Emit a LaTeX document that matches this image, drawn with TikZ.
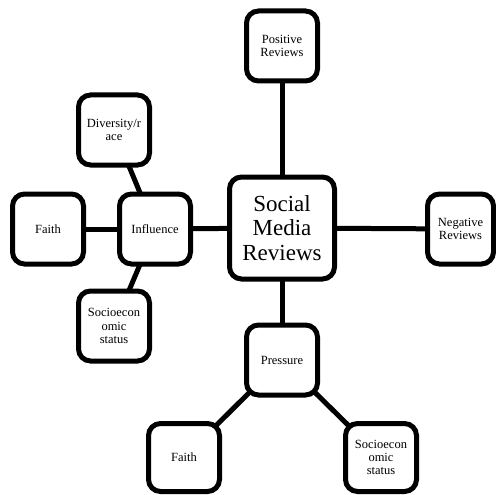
\documentclass[tikz,border=0pt]{standalone}
\usepackage{fontspec}
\setmainfont{Liberation Serif}
\usetikzlibrary{backgrounds}

\begin{document}
\begin{tikzpicture}[x=1pt, y=-1pt, line width=5pt,
    box/.style={shape=rectangle, draw=black, fill=white, rounded corners=12pt, minimum width=71pt, minimum height=70pt, inner sep=1pt, align=center, font=\fontsize{12.5}{13.3}\selectfont},
    bigbox/.style={box, minimum width=105pt, minimum height=102pt, font=\fontsize{23}{24.7}\selectfont},
    link/.style={draw=black, line width=5pt}]
    \useasboundingbox (0,0) rectangle (496,495);
    \node[bigbox] (social) at (282, 228) {Social\\Media\\Reviews};
    \node[box] (positive) at (282, 46) {Positive\\Reviews};
    \node[box, minimum width=66pt] (negative) at (460.5, 229) {Negative\\Reviews};
    \node[box] (influence) at (155, 229) {Influence};
    \node[box] (faithleft) at (48, 229) {Faith};
    \node[box] (diversity) at (114, 130) {Diversity/r\\ace};
    \node[box] (socioleft) at (114, 326) {Socioecon\\omic\\status};
    \node[box] (pressure) at (282, 360) {Pressure};
    \node[box, minimum height=68pt] (faithbottom) at (184, 457.5) {Faith};
    \node[box, minimum height=68pt] (sociobottom) at (381, 457.5) {Socioecon\\omic\\status};

    \begin{pgfonlayer}{background}
    \draw[link] (social.center) -- (positive.center);
    \draw[link] (social.center) -- (negative.center);
    \draw[link] (social.center) -- (influence.center);
    \draw[link] (social.center) -- (pressure.center);
    \draw[link] (influence.center) -- (faithleft.center);
    \draw[link] (influence.center) -- (diversity.center);
    \draw[link] (influence.center) -- (socioleft.center);
    \draw[link] (pressure.center) -- (faithbottom.center);
    \draw[link] (pressure.center) -- (sociobottom.center);
    \end{pgfonlayer}
\end{tikzpicture}
\end{document}
